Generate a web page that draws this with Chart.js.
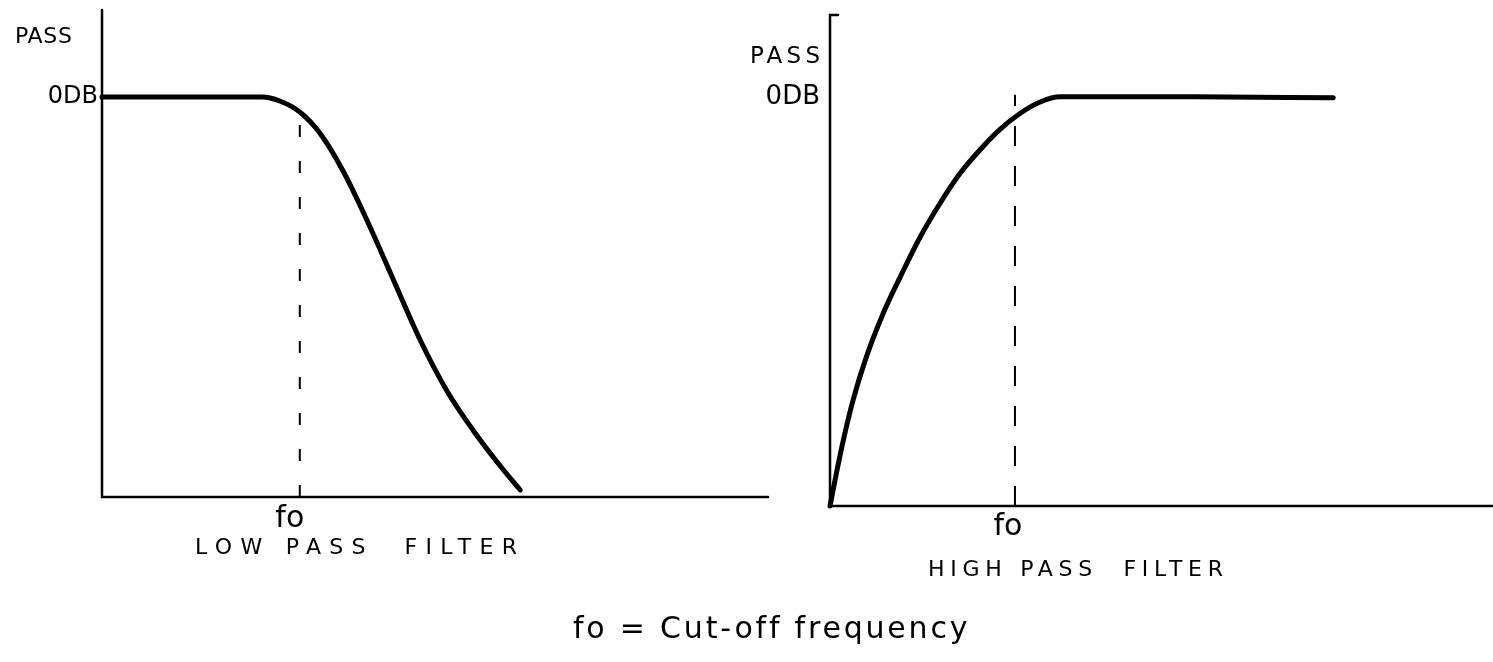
<!DOCTYPE html>
<html>
<head>
<meta charset="utf-8">
<title>Low pass / high pass filter</title>
<script src="https://cdn.jsdelivr.net/npm/chart.js@4.4.1/dist/chart.umd.min.js"></script>
<style>
  html, body { margin: 0; padding: 0; background: #fff; }
  .wrap { position: absolute; left: 0; top: 0; width: 1493px; height: 662px; }
</style>
</head>
<body>
<div class="wrap"><canvas id="lowPass" width="1493" height="662"></canvas></div>
<div class="wrap"><canvas id="highPass" width="1493" height="662"></canvas></div>
<script>
// frequency = % of the axis length, gain in dB (0 dB = pass level)
const lowFreq = [0, 12.0, 24.0, 26.7, 29.7, 32.7, 36.2, 39.7, 43.7, 47.7, 51.8, 55.8, 59.8, 62.8];
const lowGain = [0, 0, 0, -0.4, -1.5, -3.6, -7.4, -12.2, -18.2, -24.2, -29.4, -33.4, -36.9, -39.3];
const lowCutoff = 29.7;

const highFreq = [0, 0.75, 2.0, 3.5, 5.5, 8.0, 10.6, 13.6, 16.6, 19.6, 22.6, 25.6, 28.7, 31.7, 34.7, 55.0, 75.9];
const highGain = [-40, -37.5, -33.6, -29.6, -25.4, -21.2, -17.6, -13.7, -10.4, -7.5, -5.2, -3.2, -1.6, -0.5, 0, 0, -0.1];
const highCutoff = 27.9;

const FONT = '"DejaVu Sans", sans-serif';

function pairs(xs, ys) {
  return xs.map((x, i) => ({ x: x, y: ys[i] }));
}

// draw text stretched over a given width (hand lettering is spaced out)
function spread(ctx, text, x0, y, width, size) {
  ctx.font = size + 'px ' + FONT;
  ctx.letterSpacing = '0px';
  const natural = ctx.measureText(text).width;
  const gap = text.length > 1 ? Math.max(0, (width - natural) / (text.length - 1)) : 0;
  ctx.letterSpacing = gap + 'px';
  ctx.textAlign = 'left';
  ctx.textBaseline = 'middle';
  ctx.fillText(text, x0, y);
  ctx.letterSpacing = '0px';
}

const sketch = {
  id: 'sketch',
  beforeDatasetsDraw(chart, args, opts) {
    const ctx = chart.ctx;
    const a = chart.chartArea;
    ctx.save();
    ctx.strokeStyle = '#000';
    ctx.lineWidth = 2.5;
    ctx.lineCap = 'round';
    ctx.beginPath();
    if (opts.hook) {
      ctx.moveTo(a.left + opts.hook, a.top);
    }
    ctx.lineTo(a.left, a.top);
    ctx.lineTo(a.left, a.bottom);
    ctx.lineTo(a.right, a.bottom);
    ctx.stroke();
    ctx.restore();
  },
  afterDraw(chart, args, opts) {
    const ctx = chart.ctx;
    const x = chart.scales.x;
    const y = chart.scales.y;
    ctx.save();
    ctx.fillStyle = '#000';
    opts.labels.forEach(l => {
      spread(ctx, l.text, l.x, l.y, l.w, l.size);
    });
    // 0 dB mark next to the y axis
    ctx.font = opts.dbSize + 'px ' + FONT;
    ctx.textAlign = 'right';
    ctx.textBaseline = 'middle';
    ctx.fillText('0DB', chart.chartArea.left - opts.dbGap, y.getPixelForValue(0));
    // fo under the cut-off line
    ctx.font = '30px ' + FONT;
    ctx.textAlign = 'center';
    ctx.textBaseline = 'alphabetic';
    ctx.fillText('fo', x.getPixelForValue(opts.cutoff) + opts.foShift, chart.chartArea.bottom + opts.foDrop);
    ctx.restore();
  }
};

function makeChart(id, freq, gain, cutoff, cutoffTop, dash, area, yMax, labelOpts) {
  return new Chart(document.getElementById(id), {
    type: 'line',
    data: {
      datasets: [{
        data: pairs(freq, gain),
        borderColor: '#000',
        borderWidth: 5,
        borderCapStyle: 'round',
        borderJoinStyle: 'round',
        pointRadius: 0,
        cubicInterpolationMode: 'monotone',
        clip: false
      }, {
        data: [{ x: cutoff, y: -40 }, { x: cutoff, y: cutoffTop }],
        borderColor: '#000',
        borderWidth: 2,
        borderDash: dash,
        pointRadius: 0,
        clip: false
      }]
    },
    options: {
      responsive: false,
      animation: false,
      events: [],
      layout: { padding: area },
      scales: {
        x: { type: 'linear', min: 0, max: 100, display: false },
        y: { type: 'linear', min: -40, max: yMax, display: false }
      },
      plugins: {
        legend: { display: false },
        tooltip: { enabled: false },
        sketch: labelOpts
      }
    },
    plugins: [sketch]
  });
}

makeChart('lowPass', lowFreq, lowGain, lowCutoff, -1.5, [12, 24],
  { left: 102, top: 10, right: 1493 - 768, bottom: 662 - 497 }, 8.7,
  {
    cutoff: lowCutoff, foShift: -10, foDrop: 30, dbSize: 24, dbGap: 4, hook: 0,
    labels: [
      { text: 'PASS', x: 15, y: 37, w: 57, size: 22 },
      { text: 'LOW PASS  FILTER', x: 195, y: 548, w: 322, size: 22 }
    ]
  });

makeChart('highPass', highFreq, highGain, highCutoff, 0.2, [20, 20],
  { left: 830, top: 15, right: 0, bottom: 662 - 506 }, 8.0,
  {
    cutoff: highCutoff, foShift: -7, foDrop: 29, dbSize: 26, dbGap: 10, hook: 8,
    labels: [
      { text: 'PASS', x: 750, y: 57, w: 70, size: 23 },
      { text: 'HIGH PASS  FILTER', x: 928, y: 570, w: 295, size: 22 },
      { text: 'fo = Cut-off frequency', x: 573, y: 630, w: 394, size: 30 }
    ]
  });
</script>
</body>
</html>
